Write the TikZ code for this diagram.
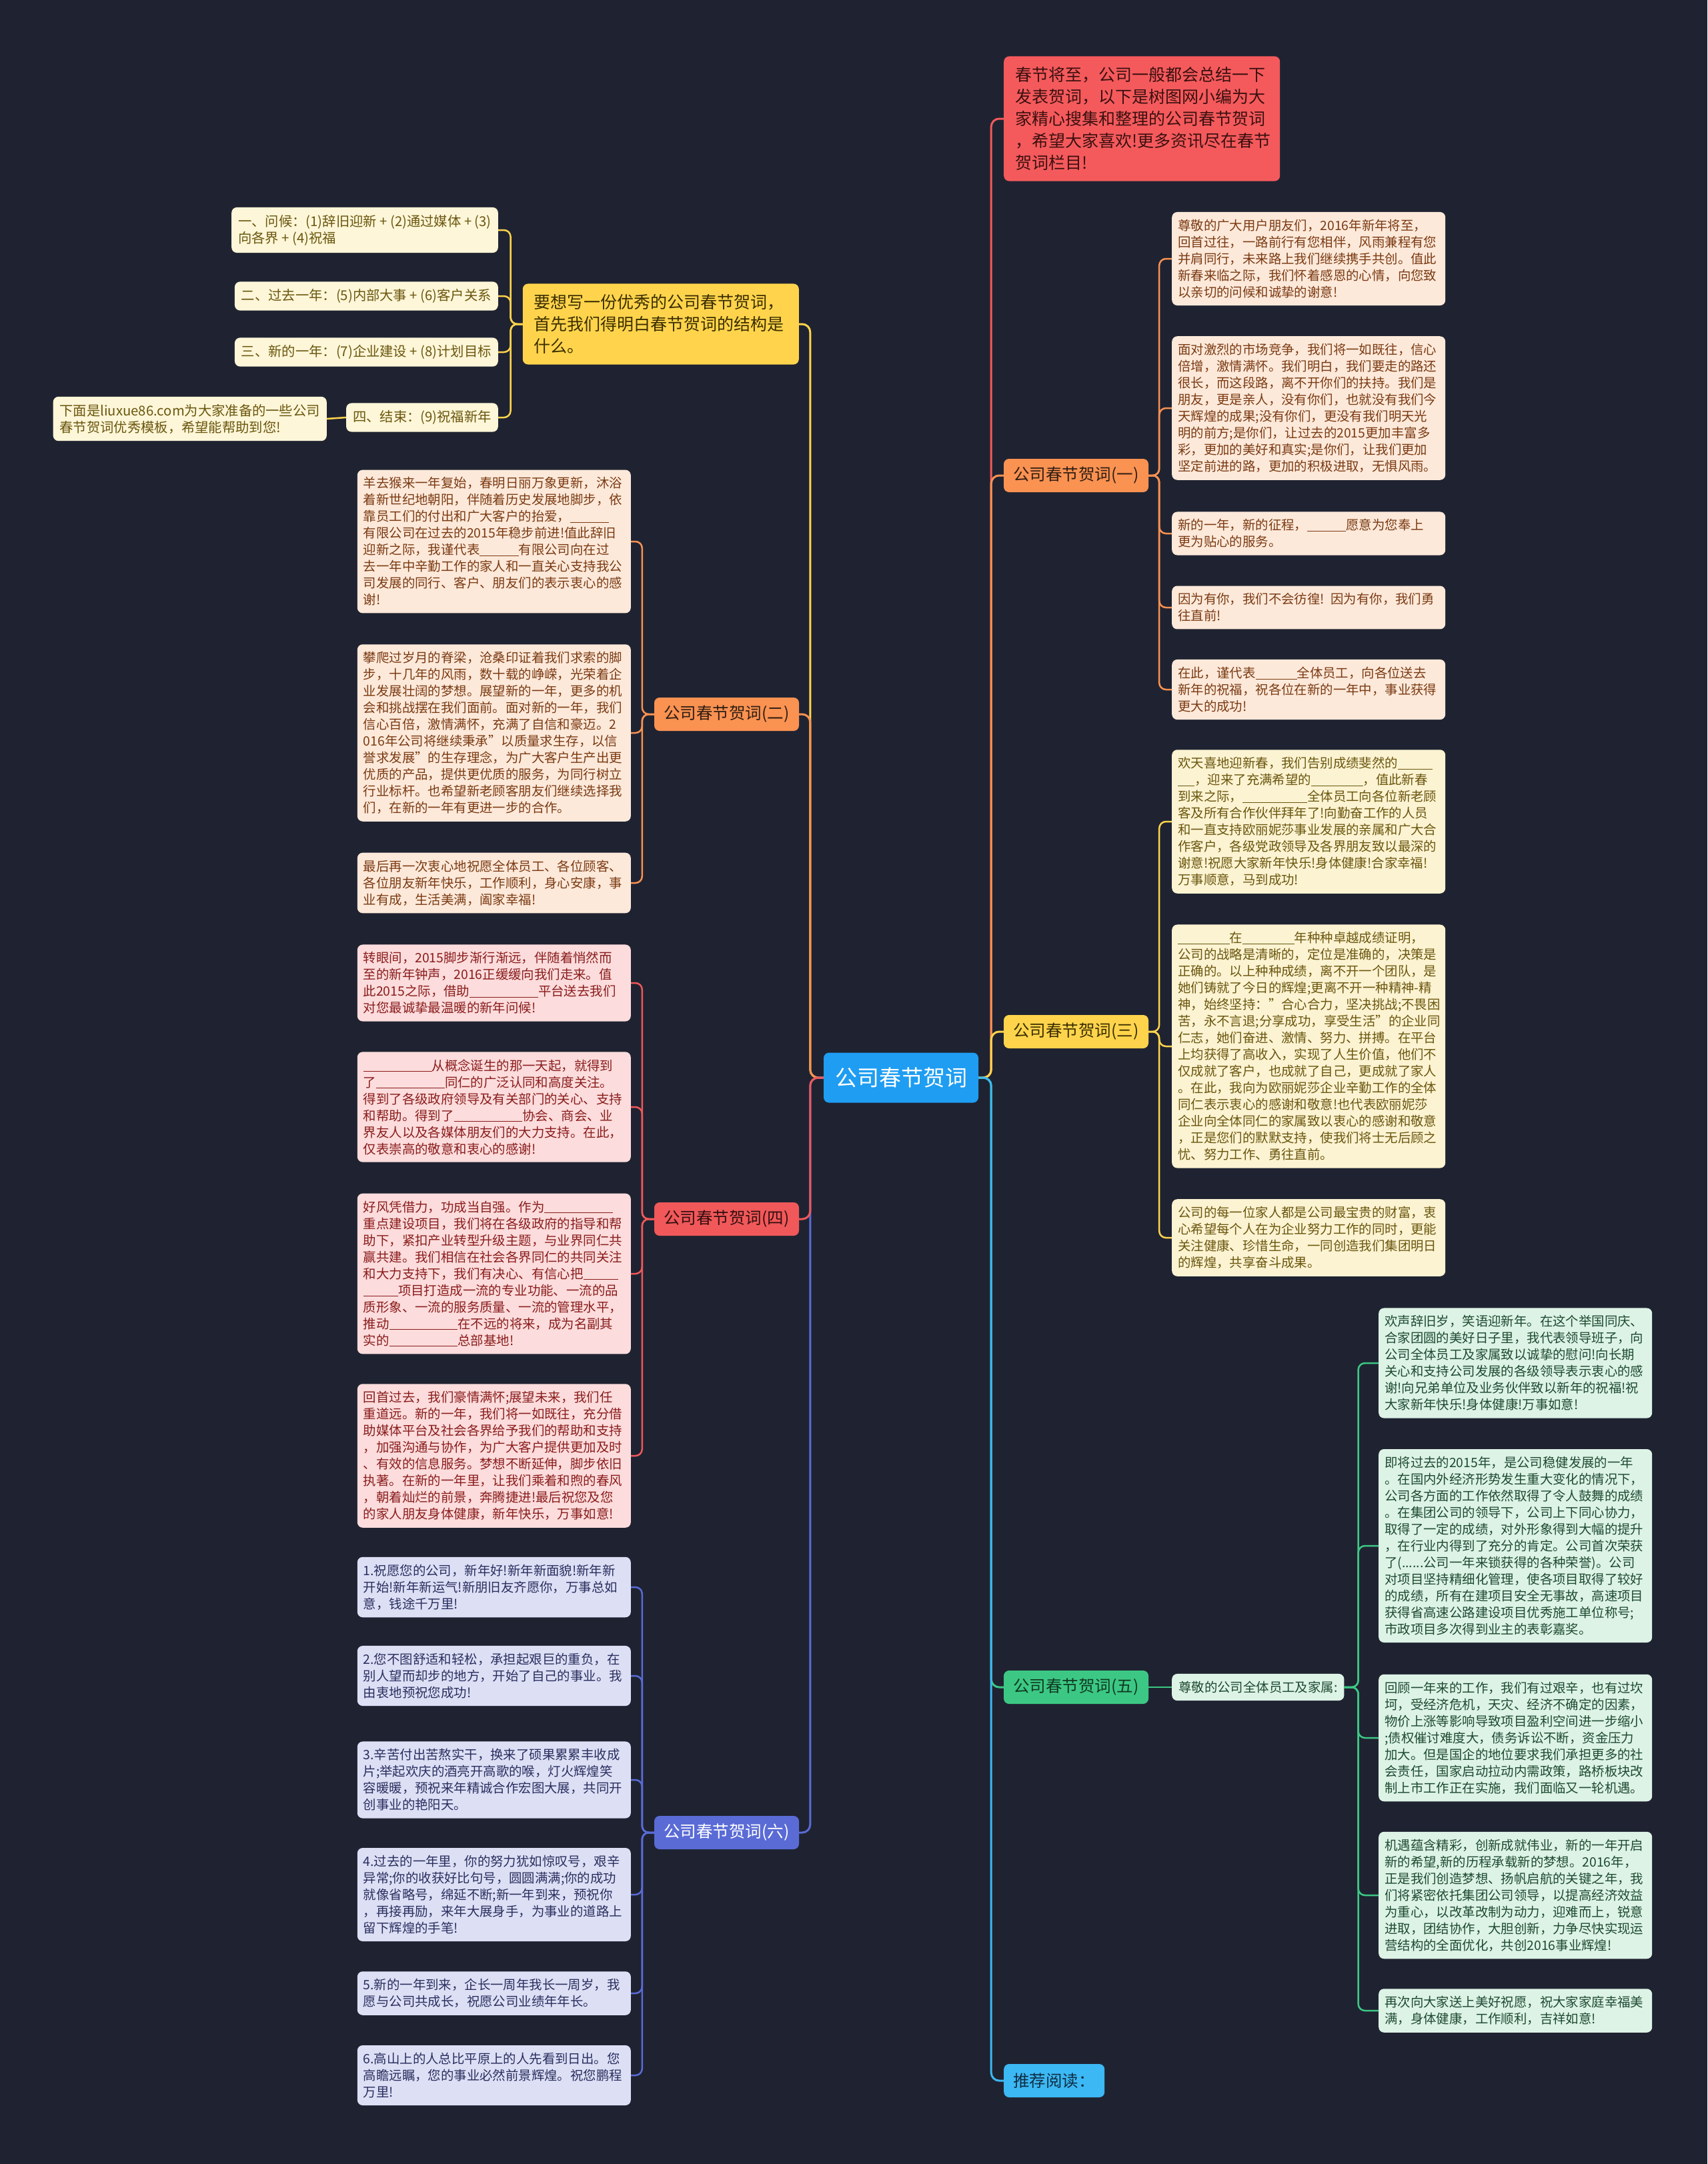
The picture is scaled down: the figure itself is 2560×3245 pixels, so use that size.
\documentclass[tikz,border=0pt]{standalone}
\usepackage{fontspec}
\setmainfont{Noto Sans CJK SC}
\definecolor{bg}{RGB}{31,35,49}
\definecolor{cenc}{RGB}{30,157,242}
\definecolor{redc}{RGB}{244,90,92}
\definecolor{redtext}{RGB}{60,16,16}
\definecolor{orc}{RGB}{250,146,82}
\definecolor{ortx}{RGB}{48,30,18}
\definecolor{yelc}{RGB}{255,212,76}
\definecolor{yeltext}{RGB}{58,46,0}
\definecolor{rdc}{RGB}{240,88,90}
\definecolor{rdtx}{RGB}{52,14,14}
\definecolor{grc}{RGB}{60,200,132}
\definecolor{grtext}{RGB}{15,58,34}
\definecolor{inc}{RGB}{90,107,214}
\definecolor{bluec}{RGB}{60,184,244}
\definecolor{bluetext}{RGB}{14,46,68}
\definecolor{orfill}{RGB}{253,233,218}
\definecolor{ortext}{RGB}{122,58,18}
\definecolor{yfill}{RGB}{252,243,210}
\definecolor{ytext}{RGB}{106,86,14}
\definecolor{tlfill}{RGB}{253,246,216}
\definecolor{rfill}{RGB}{252,220,220}
\definecolor{rtext}{RGB}{138,28,28}
\definecolor{gfill}{RGB}{221,243,230}
\definecolor{gtext}{RGB}{30,74,48}
\definecolor{ifill}{RGB}{221,224,245}
\definecolor{itext}{RGB}{42,46,94}
\newcommand\leaffont{\fontsize{19.4pt}{25pt}\selectfont}
\newcommand\tlfont{\fontsize{20.3pt}{25pt}\selectfont}
\newcommand\bigfont{\fontsize{25pt}{33pt}\selectfont}
\newcommand\brfont{\fontsize{24.5pt}{28pt}\selectfont}
\newcommand\cenfont{\fontsize{33pt}{38pt}\selectfont}
\newcommand\blk[1]{\rule[-0.12em]{#1}{0.06em}}
\tikzset{
  leafbox/.style={rounded corners=8pt, inner xsep=9pt, inner ysep=11pt, text width=392pt, align=left, font=\leaffont},
  smallbox/.style={rounded corners=8pt, inner xsep=10pt, inner ysep=11pt, align=left, font=\leaffont},
  branchbox/.style={rounded corners=8pt, minimum width=217pt, minimum height=50pt, inner sep=0pt, font=\brfont},
  bigbox/.style={rounded corners=8pt, inner xsep=17pt, inner ysep=16pt, text width=380pt, align=left, font=\bigfont},
  cenbox/.style={rounded corners=8pt, minimum width=232pt, minimum height=75pt, inner sep=0pt, font=\cenfont, fill=cenc, text=white},
  orleaf/.style={leafbox, fill=orfill, text=ortext},
  yleaf/.style={leafbox, fill=yfill, text=ytext},
  rleaf/.style={leafbox, fill=rfill, text=rtext},
  gleaf/.style={leafbox, fill=gfill, text=gtext},
  ileaf/.style={leafbox, fill=ifill, text=itext},
  tlleaf/.style={smallbox, fill=tlfill, text=ytext, font=\tlfont},
  conn/.style={line width=3pt, rounded corners=12pt},
  lconn/.style={line width=2.5pt, rounded corners=10pt},
}
\begin{document}
\begin{tikzpicture}[x=1pt,y=-1pt]
\fill[bg] (0,0) rectangle (2560,3245);
\useasboundingbox (0,0) rectangle (2560,3245);

% center
\node[cenbox] (c) at (1351,1616) {公司春节贺词};

% right main nodes
\node[bigbox, fill=redc, text=redtext, anchor=west] (top) at (1505,178) {春节将至，公司一般都会总结一下\\发表贺词，以下是树图网小编为大\\家精心搜集和整理的公司春节贺词\\，希望大家喜欢!更多资讯尽在春节\\贺词栏目!};
\node[branchbox, fill=orc, text=ortx] (b1) at (1613.5,713) {公司春节贺词(一)};
\node[branchbox, fill=yelc, text=yeltext] (b3) at (1613.5,1547) {公司春节贺词(三)};
\node[branchbox, fill=grc, text=grtext] (b5) at (1613.5,2530) {公司春节贺词(五)};
\node[branchbox, fill=bluec, text=bluetext, minimum width=151pt, anchor=west] (tj) at (1505,3120) {推荐阅读：};

% left main nodes
\node[bigbox, fill=yelc, text=yeltext, anchor=east] (yel) at (1198,486) {要想写一份优秀的公司春节贺词，\\首先我们得明白春节贺词的结构是\\什么。};
\node[branchbox, fill=orc, text=ortx] (b2) at (1089.5,1071) {公司春节贺词(二)};
\node[branchbox, fill=rdc, text=rdtx] (b4) at (1089.5,1828) {公司春节贺词(四)};
\node[branchbox, fill=inc, text=white] (b6) at (1089.5,2748) {公司春节贺词(六)};

% top-left leaves
\node[tlleaf, anchor=east] (y1) at (747,345) {一、问候：(1)辞旧迎新 + (2)通过媒体 + (3)\\向各界 + (4)祝福};
\node[tlleaf, anchor=east] (y2) at (747,444) {二、过去一年：(5)内部大事 + (6)客户关系};
\node[tlleaf, anchor=east] (y3) at (747,528) {三、新的一年：(7)企业建设 + (8)计划目标};
\node[tlleaf, anchor=east] (y4) at (747,626) {四、结束：(9)祝福新年};
\node[tlleaf, anchor=east] (y5) at (490,628) {下面是liuxue86.com为大家准备的一些公司\\春节贺词优秀模板，希望能帮助到您!};

% branch 1 leaves
\node[orleaf, anchor=west] (l1a) at (1757,388) {尊敬的广大用户朋友们，2016年新年将至，\\回首过往，一路前行有您相伴，风雨兼程有您\\并肩同行，未来路上我们继续携手共创。值此\\新春来临之际，我们怀着感恩的心情，向您致\\以亲切的问候和诚挚的谢意!};
\node[orleaf, anchor=west] (l1b) at (1757,612) {面对激烈的市场竞争，我们将一如既往，信心\\倍增，激情满怀。我们明白，我们要走的路还\\很长，而这段路，离不开你们的扶持。我们是\\朋友，更是亲人，没有你们，也就没有我们今\\天辉煌的成果;没有你们，更没有我们明天光\\明的前方;是你们，让过去的2015更加丰富多\\彩，更加的美好和真实;是你们，让我们更加\\坚定前进的路，更加的积极进取，无惧风雨。};
\node[orleaf, anchor=west] (l1c) at (1757,800) {新的一年，新的征程，\blk{3em}愿意为您奉上\\更为贴心的服务。};
\node[orleaf, anchor=west] (l1d) at (1757,911) {因为有你，我们不会彷徨! 因为有你，我们勇\\往直前!};
\node[orleaf, anchor=west] (l1e) at (1757,1034) {在此，谨代表\blk{3.2em}全体员工，向各位送去\\新年的祝福，祝各位在新的一年中，事业获得\\更大的成功!};

% branch 3 leaves
\node[yleaf, anchor=west] (l3a) at (1757,1232) {欢天喜地迎新春，我们告别成绩斐然的\blk{2.7em}\\\blk{1.3em}，迎来了充满希望的\blk{4em}，值此新春\\到来之际，\blk{5em}全体员工向各位新老顾\\客及所有合作伙伴拜年了!向勤奋工作的人员\\和一直支持欧丽妮莎事业发展的亲属和广大合\\作客户，各级党政领导及各界朋友致以最深的\\谢意!祝愿大家新年快乐!身体健康!合家幸福!\\万事顺意，马到成功!};
\node[yleaf, anchor=west] (l3b) at (1757,1569) {\blk{4em}在\blk{4em}年种种卓越成绩证明，\\公司的战略是清晰的，定位是准确的，决策是\\正确的。以上种种成绩，离不开一个团队，是\\她们铸就了今日的辉煌;更离不开一种精神-精\\神，始终坚持："合心合力，坚决挑战;不畏困\\苦，永不言退;分享成功，享受生活"的企业同\\仁志，她们奋进、激情、努力、拼搏。在平台\\上均获得了高收入，实现了人生价值，他们不\\仅成就了客户，也成就了自己，更成就了家人\\。在此，我向为欧丽妮莎企业辛勤工作的全体\\同仁表示衷心的感谢和敬意!也代表欧丽妮莎\\企业向全体同仁的家属致以衷心的感谢和敬意\\，正是您们的默默支持，使我们将士无后顾之\\忧、努力工作、勇往直前。};
\node[yleaf, anchor=west] (l3c) at (1757,1856) {公司的每一位家人都是公司最宝贵的财富，衷\\心希望每个人在为企业努力工作的同时，更能\\关注健康、珍惜生命，一同创造我们集团明日\\的辉煌，共享奋斗成果。};

% branch 5
\node[smallbox, fill=gfill, text=gtext, anchor=west] (m5) at (1757,2530) {尊敬的公司全体员工及家属:};
\node[gleaf, anchor=west] (l5a) at (2067,2044) {欢声辞旧岁，笑语迎新年。在这个举国同庆、\\合家团圆的美好日子里，我代表领导班子，向\\公司全体员工及家属致以诚挚的慰问!向长期\\关心和支持公司发展的各级领导表示衷心的感\\谢!向兄弟单位及业务伙伴致以新年的祝福!祝\\大家新年快乐!身体健康!万事如意!};
\node[gleaf, anchor=west] (l5b) at (2067,2318) {即将过去的2015年，是公司稳健发展的一年\\。在国内外经济形势发生重大变化的情况下，\\公司各方面的工作依然取得了令人鼓舞的成绩\\。在集团公司的领导下，公司上下同心协力，\\取得了一定的成绩，对外形象得到大幅的提升\\，在行业内得到了充分的肯定。公司首次荣获\\了(......公司一年来锁获得的各种荣誉)。公司\\对项目坚持精细化管理，使各项目取得了较好\\的成绩，所有在建项目安全无事故，高速项目\\获得省高速公路建设项目优秀施工单位称号;\\市政项目多次得到业主的表彰嘉奖。};
\node[gleaf, anchor=west] (l5c) at (2067,2606) {回顾一年来的工作，我们有过艰辛，也有过坎\\坷，受经济危机，天灾、经济不确定的因素，\\物价上涨等影响导致项目盈利空间进一步缩小\\;债权催讨难度大，债务诉讼不断，资金压力\\加大。但是国企的地位要求我们承担更多的社\\会责任，国家启动拉动内需政策，路桥板块改\\制上市工作正在实施，我们面临又一轮机遇。};
\node[gleaf, anchor=west] (l5d) at (2067,2842) {机遇蕴含精彩，创新成就伟业，新的一年开启\\新的希望,新的历程承载新的梦想。2016年，\\正是我们创造梦想、扬帆启航的关键之年，我\\们将紧密依托集团公司领导，以提高经济效益\\为重心，以改革改制为动力，迎难而上，锐意\\进取，团结协作，大胆创新，力争尽快实现运\\营结构的全面优化，共创2016事业辉煌!};
\node[gleaf, anchor=west] (l5e) at (2067,3015) {再次向大家送上美好祝愿，祝大家家庭幸福美\\满，身体健康，工作顺利，吉祥如意!};

% branch 2 leaves
\node[orleaf, anchor=east] (l2a) at (946,812) {羊去猴来一年复始，春明日丽万象更新，沐浴\\着新世纪地朝阳，伴随着历史发展地脚步，依\\靠员工们的付出和广大客户的抬爱，\blk{3em}\\有限公司在过去的2015年稳步前进!值此辞旧\\迎新之际，我谨代表\blk{3em}有限公司向在过\\去一年中辛勤工作的家人和一直关心支持我公\\司发展的同行、客户、朋友们的表示衷心的感\\谢!};
\node[orleaf, anchor=east] (l2b) at (946,1099) {攀爬过岁月的脊梁，沧桑印证着我们求索的脚\\步，十几年的风雨，数十载的峥嵘，光荣着企\\业发展壮阔的梦想。展望新的一年，更多的机\\会和挑战摆在我们面前。面对新的一年，我们\\信心百倍，激情满怀，充满了自信和豪迈。2\\016年公司将继续秉承"以质量求生存，以信\\誉求发展"的生存理念，为广大客户生产出更\\优质的产品，提供更优质的服务，为同行树立\\行业标杆。也希望新老顾客朋友们继续选择我\\们，在新的一年有更进一步的合作。};
\node[orleaf, anchor=east] (l2c) at (946,1324) {最后再一次衷心地祝愿全体员工、各位顾客、\\各位朋友新年快乐，工作顺利，身心安康，事\\业有成，生活美满，阖家幸福!};

% branch 4 leaves
\node[rleaf, anchor=east] (l4a) at (946,1474) {转眼间，2015脚步渐行渐远，伴随着悄然而\\至的新年钟声，2016正缓缓向我们走来。值\\此2015之际，借助\blk{5.3em}平台送去我们\\对您最诚挚最温暖的新年问候!};
\node[rleaf, anchor=east] (l4b) at (946,1660) {\blk{5.3em}从概念诞生的那一天起，就得到\\了\blk{5.3em}同仁的广泛认同和高度关注。\\得到了各级政府领导及有关部门的关心、支持\\和帮助。得到了\blk{5.3em}协会、商会、业\\界友人以及各媒体朋友们的大力支持。在此，\\仅表崇高的敬意和衷心的感谢!};
\node[rleaf, anchor=east] (l4c) at (946,1910) {好风凭借力，功成当自强。作为\blk{5.3em}\\重点建设项目，我们将在各级政府的指导和帮\\助下，紧扣产业转型升级主题，与业界同仁共\\赢共建。我们相信在社会各界同仁的共同关注\\和大力支持下，我们有决心、有信心把\blk{2.7em}\\\blk{2.7em}项目打造成一流的专业功能、一流的品\\质形象、一流的服务质量、一流的管理水平，\\推动\blk{5.3em}在不远的将来，成为名副其\\实的\blk{5.3em}总部基地!};
\node[rleaf, anchor=east] (l4d) at (946,2183) {回首过去，我们豪情满怀;展望未来，我们任\\重道远。新的一年，我们将一如既往，充分借\\助媒体平台及社会各界给予我们的帮助和支持\\，加强沟通与协作，为广大客户提供更加及时\\、有效的信息服务。梦想不断延伸，脚步依旧\\执著。在新的一年里，让我们乘着和煦的春风\\，朝着灿烂的前景，奔腾捷进!最后祝您及您\\的家人朋友身体健康，新年快乐，万事如意!};

% branch 6 leaves
\node[ileaf, anchor=east] (l6a) at (946,2380) {1.祝愿您的公司，新年好!新年新面貌!新年新\\开始!新年新运气!新朋旧友齐愿你，万事总如\\意，钱途千万里!};
\node[ileaf, anchor=east] (l6b) at (946,2513) {2.您不图舒适和轻松，承担起艰巨的重负，在\\别人望而却步的地方，开始了自己的事业。我\\由衷地预祝您成功!};
\node[ileaf, anchor=east] (l6c) at (946,2669) {3.辛苦付出苦熬实干，换来了硕果累累丰收成\\片;举起欢庆的酒亮开高歌的喉，灯火辉煌笑\\容暖暖，预祝来年精诚合作宏图大展，共同开\\创事业的艳阳天。};
\node[ileaf, anchor=east] (l6d) at (946,2841) {4.过去的一年里，你的努力犹如惊叹号，艰辛\\异常;你的收获好比句号，圆圆满满;你的成功\\就像省略号，绵延不断;新一年到来，预祝你\\，再接再励，来年大展身手，为事业的道路上\\留下辉煌的手笔!};
\node[ileaf, anchor=east] (l6e) at (946,2989) {5.新的一年到来，企长一周年我长一周岁，我\\愿与公司共成长，祝愿公司业绩年年长。};
\node[ileaf, anchor=east] (l6f) at (946,3112) {6.高山上的人总比平原上的人先看到日出。您\\高瞻远瞩，您的事业必然前景辉煌。祝您鹏程\\万里!};

% main connectors, right
\draw[conn, draw=redc] (c.east) -- ++(19,0) |- (top.west);
\draw[conn, draw=orc] (c.east) -- ++(19,0) |- (b1.west);
\draw[conn, draw=yelc] (c.east) -- ++(19,0) |- (b3.west);
\draw[conn, draw=grc] (c.east) -- ++(19,0) |- (b5.west);
\draw[conn, draw=bluec] (c.east) -- ++(19,0) |- (tj.west);
% main connectors, left
\draw[conn, draw=yelc] (c.west) -- ++(-20,0) |- (yel.east);
\draw[conn, draw=orc] (c.west) -- ++(-20,0) |- (b2.east);
\draw[conn, draw=inc] (c.west) -- ++(-20,0) |- (b6.east);
\draw[conn, draw=rdc] (c.west) -- ++(-20,0) |- (b4.east);

% leaf connectors
\foreach \l in {y1,y2,y3,y4} \draw[lconn, draw=yelc] (yel.west) -- ++(-18,0) |- (\l.east);
\draw[lconn, draw=yelc] (y4.west) -- (y5.east);
\foreach \l in {l1a,l1b,l1c,l1d,l1e} \draw[lconn, draw=orc] (b1.east) -- ++(16,0) |- (\l.west);
\foreach \l in {l3a,l3b,l3c} \draw[lconn, draw=yelc] (b3.east) -- ++(16,0) |- (\l.west);
\draw[lconn, draw=grc] (b5.east) -- (m5.west);
\foreach \l in {l5a,l5b,l5c,l5d,l5e} \draw[lconn, draw=grc] (m5.east) -- ++(21,0) |- (\l.west);
\foreach \l in {l2a,l2b,l2c} \draw[lconn, draw=orc] (b2.west) -- ++(-18,0) |- (\l.east);
\foreach \l in {l4a,l4b,l4c,l4d} \draw[lconn, draw=rdc] (b4.west) -- ++(-18,0) |- (\l.east);
\foreach \l in {l6a,l6b,l6c,l6d,l6e,l6f} \draw[lconn, draw=inc] (b6.west) -- ++(-18,0) |- (\l.east);
\end{tikzpicture}
\end{document}
